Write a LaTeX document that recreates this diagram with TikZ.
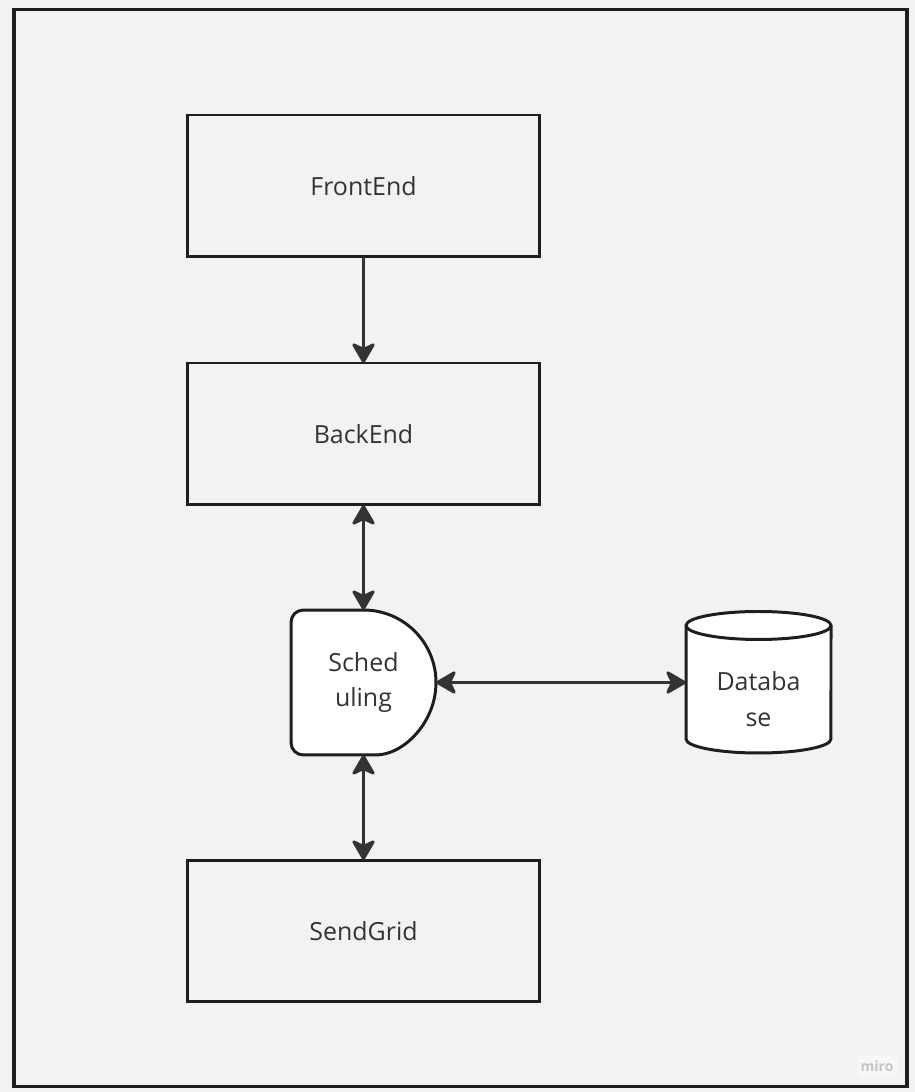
\documentclass[tikz,border=0pt]{standalone}
\usepackage{fontspec}
\setmainfont{Open Sans}
\usetikzlibrary{arrows.meta,backgrounds}
\definecolor{pagegray}{HTML}{F2F2F2}
\definecolor{edgeblack}{HTML}{1E1E1E}
\definecolor{arrowgray}{HTML}{333333}
\definecolor{textgray}{HTML}{333333}
\definecolor{mirogray}{HTML}{C4C4CC}
\definecolor{mirobg}{HTML}{F7F7F7}

\begin{document}
\begin{tikzpicture}[x=0.02cm, y=0.02cm,
  every node/.style={outer sep=0pt, text=textgray, font=\fontsize{14.2}{20.4}\selectfont},
  block/.style={draw=edgeblack, line width=1.7pt, fill=pagegray, minimum width=7.06cm, minimum height=2.84cm},
  shapebox/.style={minimum width=2.9cm, align=center},
  outline/.style={draw=edgeblack, line width=1.7pt, fill=white},
  >={Stealth[length=13pt, width=15pt, inset=3.5pt, round]},
  link/.style={draw=arrowgray, line width=1.7pt}]
\useasboundingbox (0,0) rectangle (915,1092);

\node[block] (front) at (363.5,906) {FrontEnd};
\node[block] (back) at (363.5,658) {BackEnd};
\node[shapebox, minimum height=2.9cm] (sched) at (363.5,409.5) {Sched\\uling};
\node[shapebox] (db) at (758.5,393) {Databa\\se};
\node[block] (sendgrid) at (363.5,161) {SendGrid};
\node[font=\fontsize{8}{8}\selectfont\bfseries, text=mirogray, fill=mirobg, minimum width=0.78cm, minimum height=0.4cm, inner sep=0pt] (miro) at (877,26) {miro};

\draw[link, ->] (front) -- (back);
\draw[link, <->] (back) -- (sched);
\draw[link, <->] (sched) -- (sendgrid);
\draw[link, <->] (sched.east) -- (sched.east -| db.west);

\begin{scope}[on background layer]
\fill[pagegray] (0,0) rectangle (915,1092);
\draw[edgeblack, line width=2pt] (14,5.5) rectangle (907,1082.5);
% scheduling: rounded on the left, half circle on the right
\draw[outline, rounded corners=7pt] (sched.north) -- (sched.north west) -- (sched.south west) -- (sched.south) [sharp corners] arc[start angle=-90, end angle=90, radius=1.45cm] -- cycle;
% database cylinder
\draw[outline] (686,466.5) -- (686,353) arc[start angle=180, end angle=360, x radius=1.45cm, y radius=0.28cm] -- (831,466.5) arc[start angle=0, end angle=180, x radius=1.45cm, y radius=0.28cm] -- cycle;
\draw[edgeblack, line width=1.7pt] (686,466.5) arc[start angle=180, end angle=360, x radius=1.45cm, y radius=0.28cm];
\end{scope}
\end{tikzpicture}
\end{document}
